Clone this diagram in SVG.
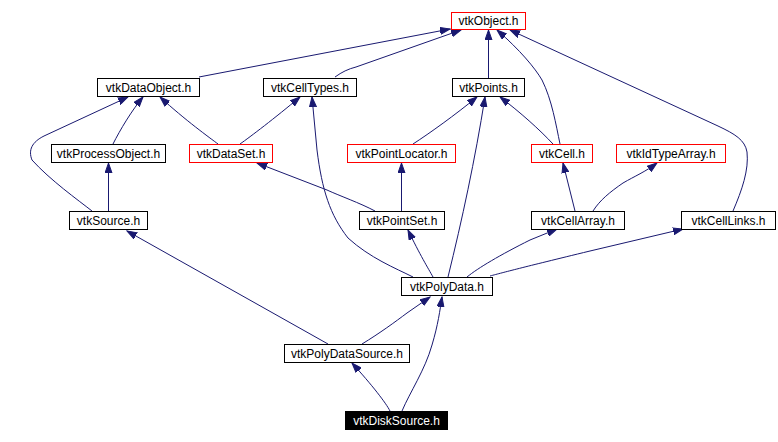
<svg xmlns="http://www.w3.org/2000/svg" width="778" height="442" viewBox="0 0 778 442">
<style>
.n rect{fill:#fff;stroke:#000;stroke-width:1}
.n.r rect{stroke:#f00}
.n text{font-family:"Liberation Sans",Arial,sans-serif;font-size:12px;text-anchor:middle;fill:#000}
.n.k rect{fill:#000;stroke:#000}
.n.k text{fill:#fff}
.e path{fill:none;stroke:#191970;stroke-width:1;marker-end:url(#ah)}
</style>
<defs>
<marker id="ah" markerUnits="userSpaceOnUse" markerWidth="11" markerHeight="8" refX="10" refY="4" orient="auto">
<path d="M0,0.5 L10,4 L0,7.5 z" fill="#191970" stroke="#191970" stroke-width="1"/>
</marker>
</defs>
<rect width="778" height="442" fill="#fff"/>
<g class="e">
<path d="M199,77 L450,29"/>
<path d="M335,77 C342,72 348,69 356,67 L461,30"/>
<path d="M488.5,78 L488.5,30"/>
<path d="M560,144 C556,125 552,100 542,80 C535,68 520,50 497,30"/>
<path d="M733,211 C742,190 749,170 747,152 C745,140 735,134 718,126 L510,30"/>
<path d="M113,144 C120,130 132,110 143,97"/>
<path d="M218,144 C210,138 185,120 160,97"/>
<path d="M92,211 C78,200 50,180 32,160 C28,150 32,142 44,136 L128,97"/>
<path d="M240,144 C250,137 275,118 300,97"/>
<path d="M413,277 C395,268 370,258 348,238 C330,215 322,190 317,150 L312,97"/>
<path d="M413,144 C430,133 455,115 477,97"/>
<path d="M448,277 C462,220 475,160 485,97"/>
<path d="M553,144 C540,130 520,112 500,97"/>
<path d="M375,211 C360,203 340,196 327,190 L257,163"/>
<path d="M401.5,211 L401.5,163"/>
<path d="M108.5,211 L108.5,163"/>
<path d="M575,211 L563,163"/>
<path d="M593,211 C600,200 610,192 623,183 C635,176 645,172 657,163"/>
<path d="M433,277 C428,268 420,255 408,230"/>
<path d="M467,277 C478,268 500,255 530,240 L557,229"/>
<path d="M490,276 C505,272 520,268 590,251 L683,229"/>
<path d="M328,344 L127,231"/>
<path d="M362,344 C380,333 395,322 407,313 L430,297"/>
<path d="M390,411 C386,403 372,385 352,363"/>
<path d="M402,411 C410,392 425,370 432,345 C438,325 440,310 442,297"/>
</g>
<g id="vtkObject" class="n r"><rect x="451.5" y="12.5" width="74" height="17"/><text x="488.5" y="25">vtkObject.h</text></g>
<g id="vtkDataObject" class="n"><rect x="97.5" y="78.5" width="102" height="18"/><text x="148.5" y="92">vtkDataObject.h</text></g>
<g id="vtkCellTypes" class="n"><rect x="263.5" y="78.5" width="93" height="18"/><text x="310" y="92">vtkCellTypes.h</text></g>
<g id="vtkPoints" class="n"><rect x="452.5" y="78.5" width="72" height="18"/><text x="488.5" y="92">vtkPoints.h</text></g>
<g id="vtkProcessObject" class="n"><rect x="51.5" y="144.5" width="114" height="18"/><text x="108.5" y="158">vtkProcessObject.h</text></g>
<g id="vtkDataSet" class="n r"><rect x="189.5" y="144.5" width="83" height="18"/><text x="231" y="158">vtkDataSet.h</text></g>
<g id="vtkPointLocator" class="n r"><rect x="347.5" y="144.5" width="108" height="18"/><text x="401.5" y="158">vtkPointLocator.h</text></g>
<g id="vtkCell" class="n r"><rect x="531.5" y="144.5" width="61" height="18"/><text x="562" y="158">vtkCell.h</text></g>
<g id="vtkIdTypeArray" class="n r"><rect x="616.5" y="144.5" width="109" height="18"/><text x="671" y="158">vtkIdTypeArray.h</text></g>
<g id="vtkSource" class="n"><rect x="69.5" y="211.5" width="78" height="18"/><text x="108.5" y="225">vtkSource.h</text></g>
<g id="vtkPointSet" class="n"><rect x="359.5" y="211.5" width="85" height="18"/><text x="402" y="225">vtkPointSet.h</text></g>
<g id="vtkCellArray" class="n"><rect x="531.5" y="211.5" width="93" height="18"/><text x="578" y="225">vtkCellArray.h</text></g>
<g id="vtkCellLinks" class="n"><rect x="681.5" y="211.5" width="94" height="18"/><text x="728.5" y="225">vtkCellLinks.h</text></g>
<g id="vtkPolyData" class="n"><rect x="401.5" y="277.5" width="91" height="18"/><text x="447" y="291">vtkPolyData.h</text></g>
<g id="vtkPolyDataSource" class="n"><rect x="284.5" y="344.5" width="125" height="18"/><text x="347" y="358">vtkPolyDataSource.h</text></g>
<g id="vtkDiskSource" class="n k"><rect x="345.5" y="411.5" width="102" height="18"/><text x="396.5" y="425">vtkDiskSource.h</text></g>
</svg>
